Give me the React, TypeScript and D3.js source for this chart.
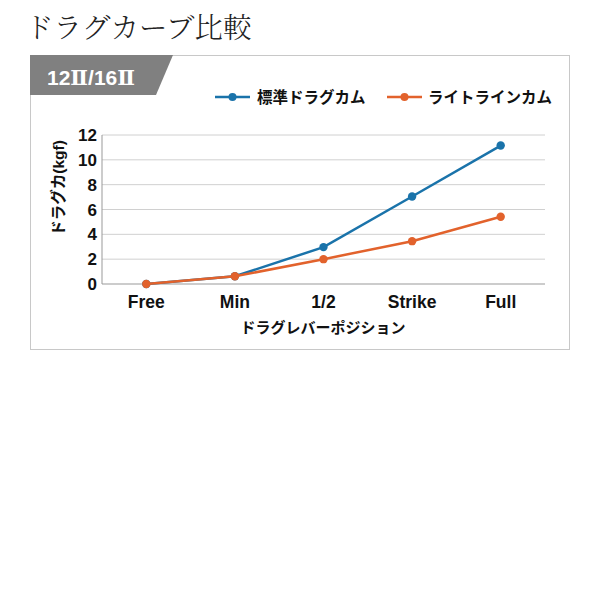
import React from "react";
import * as d3 from "d3";

const categories = ["Free", "Min", "1/2", "Strike", "Full"];
const standardCam = [0, 0.62, 2.97, 7.05, 11.15];
const lightLineCam = [0, 0.62, 2.0, 3.45, 5.42];
const yTicks = [0, 2, 4, 6, 8, 10, 12];
const seriesNames = ["標準ドラグカム", "ライトラインカム"];
const colors = ["#1a73aa", "#e2622c"];

const sansJP = "'Liberation Sans', Arial, 'Noto Sans CJK JP', sans-serif";

export default function App() {
  const x0 = 102, x1 = 545, yTop = 135, yBot = 284;
  const x = d3.scalePoint<string>().domain(categories).range([x0, x1]).padding(0.5);
  const y = d3.scaleLinear().domain([0, 12]).range([yBot, yTop]);
  const line = d3
    .line<number>()
    .x((_, i) => x(categories[i]) as number)
    .y((d) => y(d));
  const series = [standardCam, lightLineCam];

  return (
    <svg width={600} height={600} style={{ position: "absolute", left: 0, top: 0, background: "#fff" }}>
      <text x={25} y={38} fontFamily="'Noto Serif CJK JP', 'Noto Sans CJK JP', serif" fontWeight={300} fontSize={28.5} fill="#222">
        ドラグカーブ比較
      </text>
      <rect x={30.5} y={55.5} width={539} height={294} fill="#fff" stroke="#c8c8c8" strokeWidth={1} />
      <polygon points="30,55 173,55 156,95 30,95" fill="#808080" />
      <text x={47} y={85} fontFamily={sansJP} fontWeight="bold" fontSize={21} fill="#fff">
        12<tspan fontFamily="'DejaVu Serif', serif">Ⅱ</tspan>/16<tspan fontFamily="'DejaVu Serif', serif">Ⅱ</tspan>
      </text>

      {[
        { lx: 215, tx: 257 },
        { lx: 387, tx: 428 },
      ].map((l, i) => (
        <g key={i}>
          <line x1={l.lx} x2={l.lx + 35} y1={97} y2={97} stroke={colors[i]} strokeWidth={2.5} />
          <circle cx={l.lx + 17.5} cy={97} r={4} fill={colors[i]} />
          <text x={l.tx} y={103} fontFamily={sansJP} fontWeight="bold" fontSize={15.5} fill="#111">
            {seriesNames[i]}
          </text>
        </g>
      ))}

      {yTicks.map((t) => (
        <g key={t}>
          {t > 0 && <line x1={x0} x2={x1} y1={y(t)} y2={y(t)} stroke="#d0d0d0" strokeWidth={1} />}
          <text
            x={97}
            y={y(t) + 6}
            textAnchor="end"
            fontFamily={sansJP}
            fontWeight="bold"
            fontSize={17}
            fill="#111"
          >
            {t}
          </text>
        </g>
      ))}
      <line x1={x0} x2={x0} y1={yTop} y2={yBot} stroke="#999" strokeWidth={1} />
      <line x1={x0} x2={x1} y1={yBot} y2={yBot} stroke="#999" strokeWidth={1} />

      {categories.map((c) => (
        <text
          key={c}
          x={x(c)}
          y={308}
          textAnchor="middle"
          fontFamily={sansJP}
          fontWeight="bold"
          fontSize={17.5}
          fill="#111"
        >
          {c}
        </text>
      ))}
      <text x={323} y={333} textAnchor="middle" fontFamily={sansJP} fontWeight="bold" fontSize={15} fill="#111">
        ドラグレバーポジション
      </text>
      <text
        transform={`translate(64, 188) rotate(-90)`}
        textAnchor="middle"
        fontFamily={sansJP}
        fontWeight="bold"
        fontSize={15.5}
        fill="#111"
      >
        ドラグカ(kgf)
      </text>

      {[0, 1].map((si) => (
        <g key={si}>
          <path d={line(series[si]) as string} fill="none" stroke={colors[si]} strokeWidth={2.5} />
          {series[si].map((v, i) => (
            <circle key={i} cx={x(categories[i])} cy={y(v)} r={4.2} fill={colors[si]} />
          ))}
        </g>
      ))}
    </svg>
  );
}
